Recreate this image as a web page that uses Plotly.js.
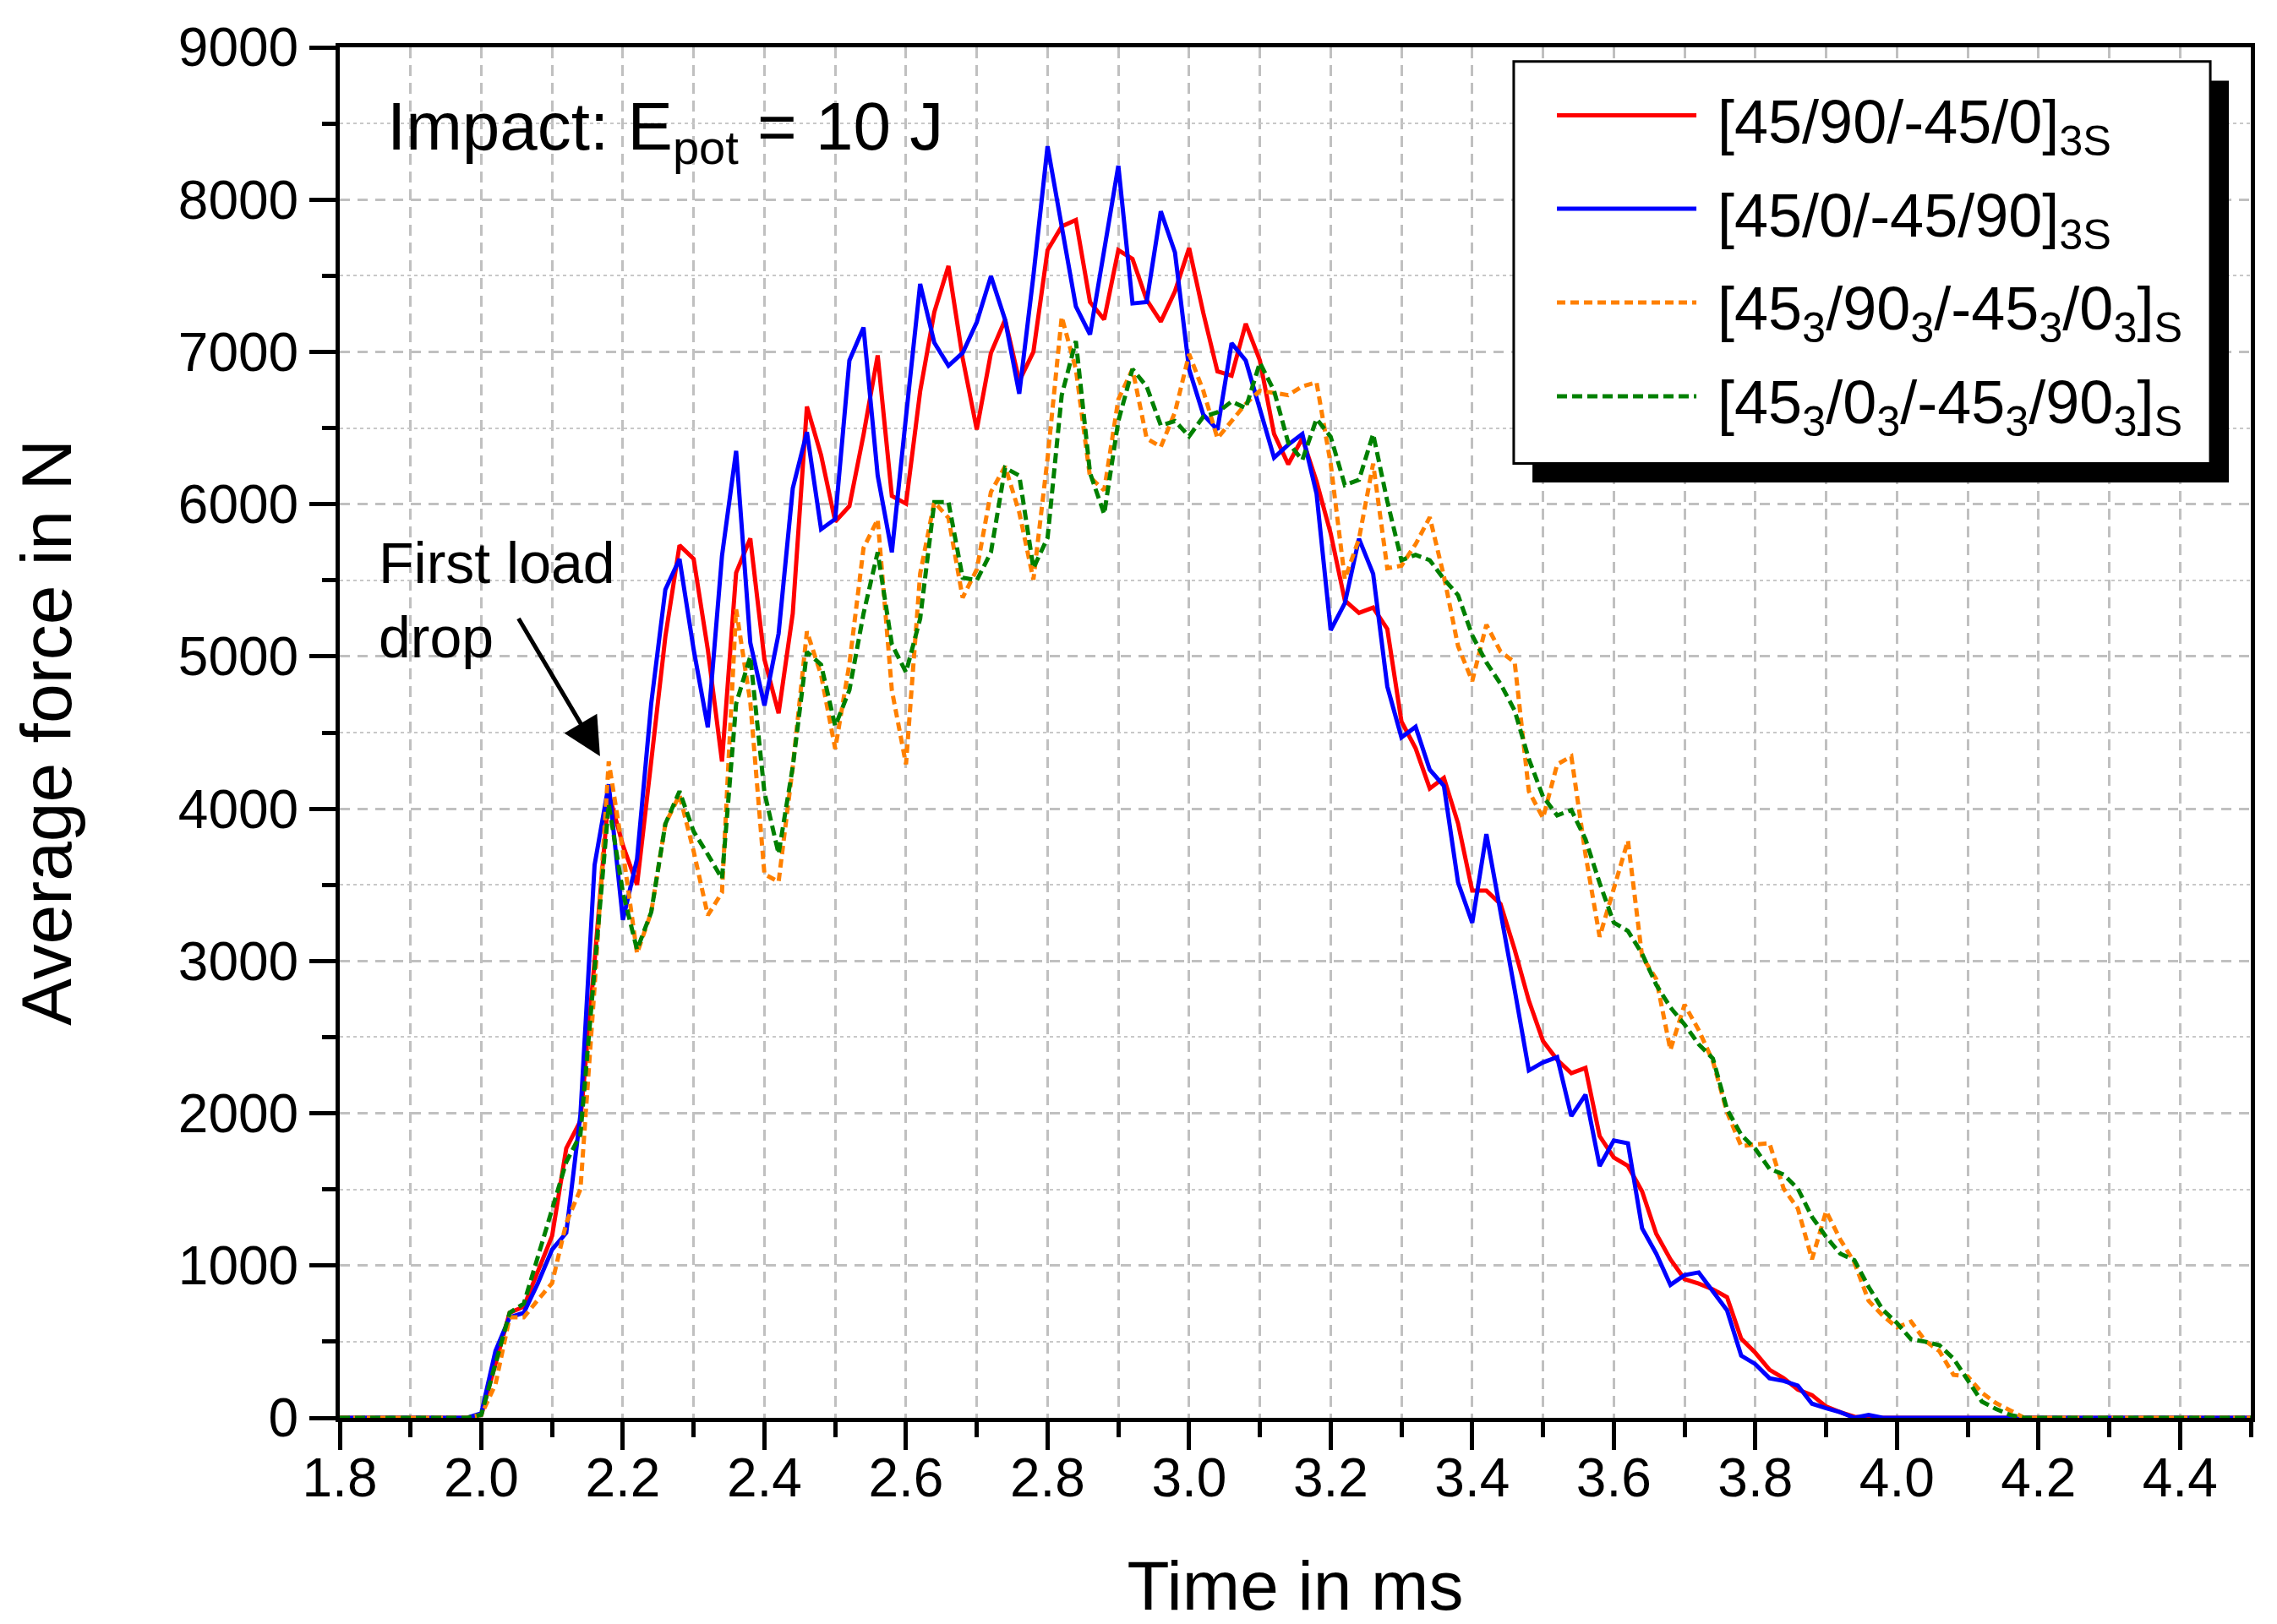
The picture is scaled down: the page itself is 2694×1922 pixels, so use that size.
<!DOCTYPE html>
<html>
<head>
<meta charset="utf-8">
<script src="https://cdn.plot.ly/plotly-3.0.1.min.js"></script>
<style>
  html, body { margin: 0; padding: 0; background: #fff; }
  #chart { width: 2694px; height: 1922px; }
</style>
</head>
<body>
<div id="chart"></div>
<script>
// time in ms
var time = [1.80, 1.98,
  2.00, 2.02, 2.04, 2.06, 2.08, 2.10, 2.12, 2.14, 2.16, 2.18,
  2.20, 2.22, 2.24, 2.26, 2.28, 2.30, 2.32, 2.34, 2.36, 2.38,
  2.40, 2.42, 2.44, 2.46, 2.48, 2.50, 2.52, 2.54, 2.56, 2.58,
  2.60, 2.62, 2.64, 2.66, 2.68, 2.70, 2.72, 2.74, 2.76, 2.78,
  2.80, 2.82, 2.84, 2.86, 2.88, 2.90, 2.92, 2.94, 2.96, 2.98,
  3.00, 3.02, 3.04, 3.06, 3.08, 3.10, 3.12, 3.14, 3.16, 3.18,
  3.20, 3.22, 3.24, 3.26, 3.28, 3.30, 3.32, 3.34, 3.36, 3.38,
  3.40, 3.42, 3.44, 3.46, 3.48, 3.50, 3.52, 3.54, 3.56, 3.58,
  3.60, 3.62, 3.64, 3.66, 3.68, 3.70, 3.72, 3.74, 3.76, 3.78,
  3.80, 3.82, 3.84, 3.86, 3.88, 3.90, 3.92, 3.94, 3.96, 3.98,
  4.00, 4.02, 4.04, 4.06, 4.08, 4.10, 4.12, 4.14, 4.16, 4.18,
  4.20, 4.50];

// average force in N, one array per layup
var forceA = [0, 0,
  20, 350, 690, 730, 970, 1195, 1770, 1950, 3000, 4100,
  3760, 3500, 4310, 5130, 5730, 5640, 5045, 4310, 5550, 5775,
  4980, 4627, 5282, 6641, 6322, 5886, 5987, 6456, 6977, 6054,
  6003, 6741, 7262, 7564, 6960, 6490, 6993, 7211, 6809, 7000,
  7668, 7824, 7866, 7327, 7213, 7668, 7611, 7341, 7199, 7398,
  7682, 7256, 6872, 6844, 7185, 6943, 6461, 6262, 6432, 6150,
  5808, 5367, 5286, 5321, 5180, 4573, 4397, 4133, 4203, 3903,
  3462, 3462, 3374, 3074, 2739, 2475, 2351, 2263, 2298, 1850,
  1710, 1654, 1487, 1208, 1041, 911, 881, 844, 792, 520,
  427, 316, 260, 186, 149, 74, 37, 7, 0, 0,
  0, 0, 0, 0, 0, 0, 0, 0, 0, 0,
  0, 0];

var forceB = [0, 0,
  30, 440, 660, 690, 885, 1105, 1215, 1990, 3630, 4160,
  3270, 3670, 4690, 5440, 5640, 5045, 4535, 5660, 6350, 5090,
  4678, 5150, 6104, 6473, 5835, 5903, 6943, 7160, 6188, 5684,
  6574, 7446, 7060, 6909, 6993, 7195, 7497, 7211, 6725, 7500,
  8350, 7824, 7298, 7114, 7653, 8222, 7318, 7327, 7923, 7653,
  6886, 6588, 6489, 7057, 6943, 6631, 6305, 6390, 6461, 6070,
  5173, 5349, 5773, 5543, 4803, 4468, 4538, 4256, 4150, 3515,
  3251, 3833, 3339, 2810, 2281, 2334, 2369, 1981, 2122, 1654,
  1821, 1803, 1245, 1078, 873, 937, 955, 836, 706, 409,
  353, 260, 242, 212, 93, 63, 37, 0, 19, 0,
  0, 0, 0, 0, 0, 0, 0, 0, 0, 0,
  0, 0];

var forceC = [0, 0,
  20, 220, 660, 660, 775, 885, 1280, 1500, 2830, 4310,
  3720, 3050, 3320, 3900, 4090, 3720, 3300, 3450, 5310, 4700,
  3570, 3520, 4275, 5164, 4879, 4393, 4950, 5712, 5900, 4778,
  4292, 5544, 6013, 5910, 5386, 5571, 6080, 6248, 5946, 5504,
  6300, 7230, 6887, 6177, 6091, 6688, 6887, 6432, 6376, 6603,
  6986, 6745, 6432, 6546, 6659, 6745, 6730, 6716, 6773, 6800,
  6266, 5508, 5773, 6266, 5579, 5596, 5737, 5914, 5526, 5067,
  4838, 5208, 5032, 4961, 4115, 3939, 4291, 4344, 3700, 3159,
  3475, 3791, 3029, 2881, 2416, 2713, 2546, 2342, 2007, 1784,
  1795, 1803, 1505, 1375, 1041, 1357, 1171, 1020, 769, 671,
  594, 632, 506, 438, 282, 272, 165, 97, 49, 0,
  0, 0];

var forceD = [0, 0,
  20, 350, 690, 750, 1060, 1370, 1680, 1860, 2920, 4030,
  3450, 3075, 3320, 3900, 4115, 3850, 3700, 3540, 4690, 5000,
  4107, 3704, 4275, 5030, 4946, 4543, 4778, 5282, 5684, 5080,
  4896, 5248, 6013, 6013, 5517, 5500, 5684, 6238, 6188, 5580,
  5779, 6716, 7071, 6205, 5935, 6546, 6887, 6773, 6517, 6546,
  6446, 6574, 6603, 6674, 6631, 6929, 6745, 6404, 6290, 6560,
  6443, 6125, 6160, 6460, 6019, 5632, 5667, 5632, 5508, 5402,
  5138, 4961, 4820, 4644, 4326, 4080, 3956, 3991, 3800, 3512,
  3252, 3197, 3048, 2844, 2695, 2583, 2453, 2360, 2026, 1859,
  1766, 1635, 1598, 1505, 1320, 1189, 1078, 1035, 860, 710,
  623, 516, 500, 477, 389, 243, 107, 58, 19, 0,
  0, 0];

var names = [
  '[45/90/-45/0]<sub>3S</sub>',
  '[45/0/-45/90]<sub>3S</sub>',
  '[45<sub>3</sub>/90<sub>3</sub>/-45<sub>3</sub>/0<sub>3</sub>]<sub>S</sub>',
  '[45<sub>3</sub>/0<sub>3</sub>/-45<sub>3</sub>/90<sub>3</sub>]<sub>S</sub>'
];
var colors = ['#ff0000', '#0000ff', '#ff8000', '#008000'];
var dashes = ['solid', 'solid', '10px,6px', '12px,6px'];
var series = [forceA, forceB, forceC, forceD];

var font = 'Liberation Sans, Arial, sans-serif';

var data = series.map(function (ys, i) {
  return {
    x: time,
    y: ys,
    type: 'scatter',
    mode: 'lines',
    name: names[i],
    showlegend: false,
    line: { color: colors[i], width: 5, dash: dashes[i] }
  };
});

// legend drawn by hand so that it keeps the boxed, shadowed look
var legX0 = 0.6143, legX1 = 0.9788, legY0 = 0.6964, legY1 = 0.9896;
var rowY = [0.9504, 0.8822, 0.8138, 0.7454];

var shapes = [
  { type: 'rect', xref: 'paper', yref: 'paper', layer: 'above',
    x0: legX0 + 0.0098, x1: legX1 + 0.0097, y0: legY0 - 0.0139, y1: legY1 - 0.0139,
    fillcolor: '#000', line: { width: 0 } },
  { type: 'rect', xref: 'paper', yref: 'paper', layer: 'above',
    x0: legX0, x1: legX1, y0: legY0, y1: legY1,
    fillcolor: '#fff', line: { color: '#000', width: 3 } }
];
var annotations = [];
names.forEach(function (n, i) {
  shapes.push({ type: 'line', xref: 'paper', yref: 'paper', layer: 'above',
    x0: 0.6369, x1: 0.7099, y0: rowY[i], y1: rowY[i],
    line: { color: colors[i], width: 5, dash: dashes[i] } });
  annotations.push({ xref: 'paper', yref: 'paper', x: 0.7200, y: rowY[i] - 0.008,
    xanchor: 'left', yanchor: 'middle', text: n, showarrow: false,
    font: { family: font, size: 72, color: '#000' } });
});

annotations.push(
  { xref: 'x', yref: 'y', x: 1.865, y: 8450, xanchor: 'left', yanchor: 'middle',
    text: 'Impact: E<sub>pot</sub> = 10 J', showarrow: false,
    font: { family: font, size: 80, color: '#000' } },
  { xref: 'x', yref: 'y', x: 1.853, y: 5370, xanchor: 'left', yanchor: 'middle',
    align: 'left', text: 'First load<br>drop', showarrow: false,
    font: { family: font, size: 68, color: '#000' } },
  { xref: 'x', yref: 'y', x: 2.1677, y: 4345, axref: 'x', ayref: 'y',
    ax: 2.0515, ay: 5257, text: '', showarrow: true,
    arrowhead: 2, arrowsize: 1.8, arrowwidth: 5, arrowcolor: '#000' }
);

var layout = {
  width: 2694,
  height: 1922,
  margin: { l: 402, r: 31, t: 56, b: 244 },
  paper_bgcolor: '#fff',
  plot_bgcolor: '#fff',
  font: { family: font, size: 64, color: '#000' },
  showlegend: false,
  xaxis: {
    range: [1.8, 4.5],
    dtick: 0.2,
    tick0: 1.8,
    tickformat: '.1f',
    tickfont: { family: font, size: 64, color: '#000' },
    ticklabelstandoff: -22,
    ticks: 'outside', ticklen: 33, tickwidth: 5, tickcolor: '#000',
    showline: true, linewidth: 5, linecolor: '#000', mirror: true,
    showgrid: true, gridcolor: '#c0c0c0', gridwidth: 3, griddash: '13px,8px',
    zeroline: false,
    minor: {
      dtick: 0.1, ticks: 'outside', ticklen: 18, tickwidth: 5, tickcolor: '#000',
      showgrid: true, gridcolor: '#c0c0c0', gridwidth: 3, griddash: '13px,8px'
    },
    title: { text: 'Time in ms', font: { family: font, size: 82, color: '#000' }, standoff: 72 }
  },
  yaxis: {
    range: [0, 9000],
    dtick: 1000,
    tickfont: { family: font, size: 64, color: '#000' },
    ticks: 'outside', ticklen: 31, tickwidth: 5, tickcolor: '#000',
    showline: true, linewidth: 5, linecolor: '#000', mirror: true,
    showgrid: true, gridcolor: '#c0c0c0', gridwidth: 3, griddash: '12px,9px',
    zeroline: false,
    minor: {
      dtick: 500, ticks: 'outside', ticklen: 16, tickwidth: 5, tickcolor: '#000',
      showgrid: true, gridcolor: '#c8c8c8', gridwidth: 1.5, griddash: '4px,4px'
    },
    title: { text: 'Average force in N', font: { family: font, size: 84, color: '#000' }, standoff: 100 }
  },
  shapes: shapes,
  annotations: annotations
};

Plotly.newPlot('chart', data, layout, { displayModeBar: false });
</script>
</body>
</html>
